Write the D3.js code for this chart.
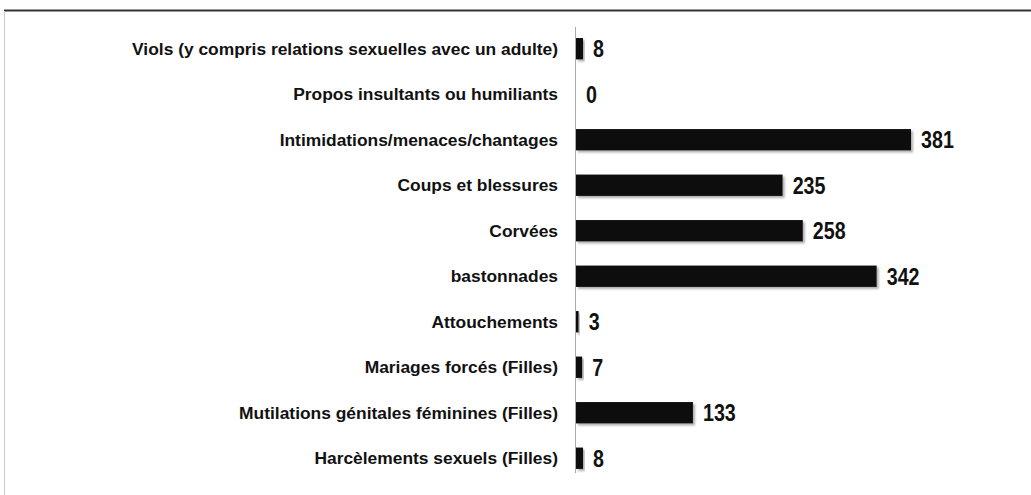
<!DOCTYPE html>
<html>
<head>
<meta charset="utf-8">
<script src="https://cdn.jsdelivr.net/npm/d3@7"></script>
<style>
  body { margin: 0; background: #fff; }
  .label { font-family: "Liberation Sans", Arial, sans-serif; font-weight: bold; }
</style>
</head>
<body>
<div class="grafico"></div>
<script>
/* Données */
const categories = [
  "Viols (y compris relations sexuelles avec un adulte)",
  "Propos insultants ou humiliants",
  "Intimidations/menaces/chantages",
  "Coups et blessures",
  "Corvées",
  "bastonnades",
  "Attouchements",
  "Mariages forcés (Filles)",
  "Mutilations génitales féminines (Filles)",
  "Harcèlements sexuels (Filles)"
];
const values = [8, 0, 381, 235, 258, 342, 3, 7, 133, 8];

const w = 1031;
const h = 495;
const narrow = 0.82; /* chiffres resserrés, façon Arial Narrow */

const svg = d3.select('.grafico')
  .append('svg')
  .attr('width', w)
  .attr('height', h)

/* Ombre des barres */
svg.append('defs')
  .append('filter')
  .attr('id', 'ombre')
  .attr('x', '-20%').attr('y', '-20%')
  .attr('width', '140%').attr('height', '160%')
  .append('feDropShadow')
  .attr('dx', 2).attr('dy', 2)
  .attr('stdDeviation', 1.3)
  .attr('flood-color', '#777')
  .attr('flood-opacity', 0.6)

/* Cadre */
svg.append('line')
  .attr('x1', 4).attr('x2', w)
  .attr('y1', 10.5).attr('y2', 10.5)
  .attr('stroke', '#333')
  .attr('stroke-width', 2)
svg.append('line')
  .attr('x1', 4.5).attr('x2', 4.5)
  .attr('y1', 11).attr('y2', h)
  .attr('stroke', '#ccc')
  .attr('stroke-width', 1)

/* Echelles */
const x0 = 575;
const x = d3.scaleLinear()
  .domain([0, 381])
  .range([x0, 910])

const y = d3.scaleBand()
  .domain(categories)
  .range([26, 481])
  .paddingInner(0.53)
  .paddingOuter(0.265)

/* Axe vertical */
svg.append('line')
  .attr('x1', x0 + 0.5).attr('x2', x0 + 0.5)
  .attr('y1', 27).attr('y2', 473)
  .attr('stroke', '#aaa')

/* Barres */
svg.selectAll('rect.bar')
  .data(values)
  .join('rect')
  .attr('class', 'bar')
  .attr('x', x0 + 1)
  .attr('y', (d, i) => y(categories[i]))
  .attr('width', d => Math.max(0, x(d) - x0))
  .attr('height', y.bandwidth())
  .attr('fill', '#0a0a0a')
  .attr('filter', 'url(#ombre)')

/* Libellés des catégories */
svg.selectAll('text.cat')
  .data(categories)
  .join('text')
  .attr('class', 'label cat')
  .attr('x', 558)
  .attr('y', d => y(d) + y.bandwidth() / 2)
  .attr('dy', '0.35em')
  .attr('text-anchor', 'end')
  .style('font-size', '17.4px')
  .attr('fill', '#111')
  .text(d => d)

/* Valeurs */
svg.selectAll('text.val')
  .data(values)
  .join('text')
  .attr('class', 'label val')
  .attr('transform', (d, i) => `translate(${x(d) + 11},${y(categories[i]) + y.bandwidth() / 2}) scale(${narrow},1)`)
  .attr('dy', '0.36em')
  .style('font-size', '24px')
  .attr('fill', '#111')
  .text(d => d)
</script>
</body>
</html>
